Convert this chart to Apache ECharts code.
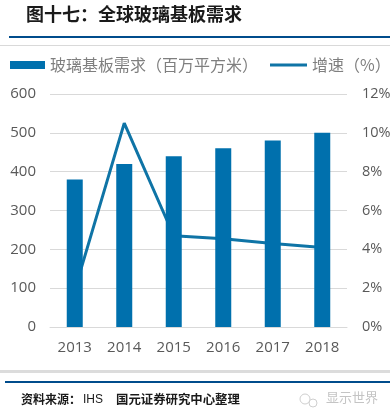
<!DOCTYPE html>
<html>
<head>
<meta charset="utf-8">
<style>
html, body { margin: 0; padding: 0; background: #fff; }
#container { width: 390px; height: 419px; }
</style>
<script src="https://cdn.jsdelivr.net/npm/echarts@6/dist/echarts.min.js"></script>
</head>
<body>
<div id="container"></div>
<script>
const years = ['2013', '2014', '2015', '2016', '2017', '2018'];
const demand = [380, 420, 440, 460, 480, 500];
const growth = [1.9, 10.5, 4.7, 4.55, 4.3, 4.1];

const cjk = '"Noto Sans CJK SC", sans-serif';
const latin = '"Open Sans", "Noto Sans", sans-serif';
const legendText = { color: '#7f7f7f', fontSize: 16, fontFamily: cjk };

let myChart = echarts.init(document.getElementById('container'));

let option = {
    animation: false,
    backgroundColor: '#fff',
    grid: { left: 50, right: 43, top: 94, bottom: 92, outerBoundsMode: 'none' },
    legend: [
        {
            left: 10,
            top: 52,
            padding: [5, 0],
            itemGap: 0,
            itemHeight: 8,
            itemWidth: 35,
            icon: 'rect',
            textStyle: legendText,
            data: ['玻璃基板需求（百万平方米）']
        },
        {
            left: 270,
            top: 52,
            padding: [5, 0],
            itemGap: 0,
            itemHeight: 3,
            itemWidth: 37,
            icon: 'rect',
            textStyle: legendText,
            data: ['增速（%）']
        }
    ],
    xAxis: {
        type: 'category',
        data: years,
        axisTick: { show: false },
        axisLine: { lineStyle: { color: '#d9d9d9' } },
        axisLabel: { color: '#595959', fontSize: 15, fontFamily: latin, margin: 13 }
    },
    yAxis: [
        {
            type: 'value',
            min: 0,
            max: 600,
            interval: 100,
            axisLine: { show: false },
            axisTick: { show: false },
            splitLine: { lineStyle: { color: '#d9d9d9' } },
            axisLabel: { color: '#595959', fontSize: 15, fontFamily: latin, margin: 14 }
        },
        {
            type: 'value',
            min: 0,
            max: 12,
            interval: 2,
            axisLine: { show: false },
            axisTick: { show: false },
            splitLine: { show: false },
            axisLabel: { color: '#595959', fontSize: 14.5, fontFamily: latin, margin: 15, formatter: '{value}%' }
        }
    ],
    series: [
        {
            name: '玻璃基板需求（百万平方米）',
            type: 'bar',
            data: demand,
            barWidth: 16,
            z: 3,
            itemStyle: { color: '#0070ad' }
        },
        {
            name: '增速（%）',
            type: 'line',
            yAxisIndex: 1,
            data: growth,
            z: 2,
            symbol: 'none',
            itemStyle: { color: '#0f74a6' },
            lineStyle: { color: '#0f74a6', width: 3 }
        }
    ],
    graphic: [
        { type: 'text', left: 26, top: 5, style: { text: '图十七：全球玻璃基板需求', fill: '#1a1a1a', font: 'bold 18px ' + cjk } },
        { type: 'rect', left: 9, top: 36, shape: { width: 381, height: 2 }, style: { fill: '#004c8c' } },
        { type: 'rect', left: 0, top: 45, shape: { width: 390, height: 1 }, style: { fill: '#d9d9d9' } },
        { type: 'rect', left: 0, top: 370, shape: { width: 390, height: 3 }, style: { fill: '#dcdcdc' } },
        { type: 'rect', left: 5, top: 381, shape: { width: 385, height: 2 }, style: { fill: '#004c8c' } },
        { type: 'text', left: 21, top: 393, style: { text: '资料来源：', fill: '#1a1a1a', font: 'bold 12px ' + cjk } },
        { type: 'text', left: 83, top: 394, style: { text: 'IHS', fill: '#1a1a1a', font: '12px "Liberation Sans", sans-serif' } },
        { type: 'text', left: 116, top: 393, style: { text: '国元证券研究中心整理', fill: '#1a1a1a', font: 'bold 12.4px ' + cjk } },
        { type: 'circle', shape: { cx: 305, cy: 399, r: 5 }, style: { fill: 'none', stroke: '#cfcfcf', lineWidth: 1 } },
        { type: 'circle', shape: { cx: 313, cy: 403, r: 4 }, style: { fill: '#fff', stroke: '#cfcfcf', lineWidth: 1 } },
        { type: 'text', left: 326, top: 391, style: { text: '显示世界', fill: '#c4c4c4', font: '13px ' + cjk } }
    ]
};
myChart.setOption(option);
</script>
</body>
</html>
